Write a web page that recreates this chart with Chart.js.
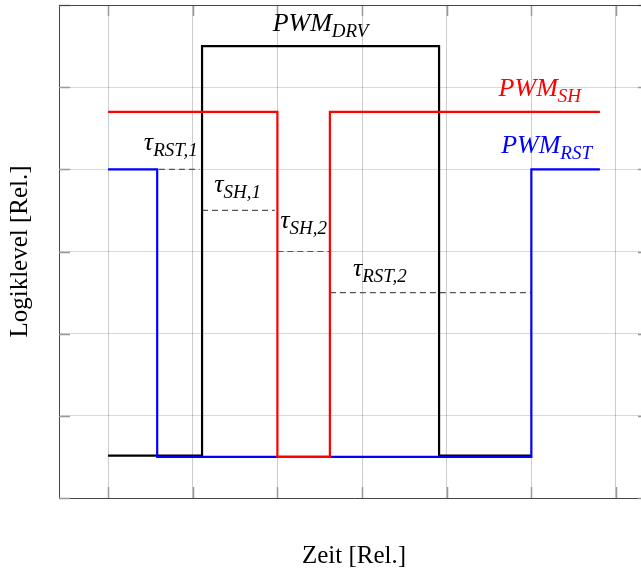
<!DOCTYPE html>
<html>
<head>
<meta charset="utf-8">
<script src="https://cdn.jsdelivr.net/npm/chart.js@4"></script>
<style>
html, body { margin: 0; padding: 0; background: #fff; overflow: hidden; }
#wrap { width: 660px; height: 571px; }
canvas { display: block; }
</style>
</head>
<body>
<div id="wrap"><canvas id="pwmChart" width="660" height="571"></canvas></div>
<script>
// signal edges (x = time, y = logic level), drawn as step lines
const drvX = [1, 2.11, 4.91, 6];
const drvY = [0.015, 5, 0.015, 0.015];
const shX = [1, 3.0, 3.62, 6.81];
const shY = [4.2, 0, 4.2, 4.2];
const rstX = [1, 1.58, 6, 6.81];
const rstY = [3.5, 0, 3.5, 3.5];

// dashed delay markers
const tauLevel = [3.5, 3, 2.5, 2];
const tauStart = [1.6, 2.11, 3.0, 3.62];
const tauEnd = [2.08, 2.97, 3.62, 6];

// labels: main text + subscript
const labelMain = ['PWM', 'PWM', 'PWM', 'τ', 'τ', 'τ', 'τ'];
const labelSub = ['DRV', 'SH', 'RST', 'RST,1', 'SH,1', 'SH,2', 'RST,2'];
const labelX = [3.51, 6.10, 6.18, 1.74, 2.53, 3.31, 4.21];
const labelY = [5.18, 4.39, 3.70, 3.73, 3.23, 2.78, 2.20];
const labelColor = ['#000', '#ff0000', '#0000ff', '#000', '#000', '#000', '#000'];

const serif = '"Liberation Serif", "Times New Roman", serif';

function toPoints(xs, ys) {
    return xs.map((v, i) => ({ x: v, y: ys[i] }));
}

// first index is drawn on top
const datasets = [
    { label: 'PWM_SH', data: toPoints(shX, shY), borderColor: '#ff0000', borderWidth: 2.2, stepped: 'before', pointRadius: 0, fill: false },
    { label: 'PWM_RST', data: toPoints(rstX, rstY), borderColor: '#0000ff', borderWidth: 2.2, stepped: 'before', pointRadius: 0, fill: false },
    { label: 'PWM_DRV', data: toPoints(drvX, drvY), borderColor: '#000000', borderWidth: 2.2, stepped: 'before', pointRadius: 0, fill: false }
];

tauLevel.forEach((lvl, i) => {
    datasets.push({
        label: 'tau' + i,
        data: [{ x: tauStart[i], y: lvl }, { x: tauEnd[i], y: lvl }],
        borderColor: '#555',
        borderWidth: 1.2,
        borderDash: [6, 4],
        pointRadius: 0,
        fill: false
    });
});

// top/right frame and inner tick marks like pgfplots
const framePlugin = {
    id: 'frame',
    beforeDatasetsDraw(chart) {
        const { ctx, chartArea: a, scales: { x, y } } = chart;
        ctx.save();
        ctx.strokeStyle = '#999';
        ctx.lineWidth = 1.5;
        ctx.beginPath();
        x.ticks.forEach(t => {
            const px = Math.round(x.getPixelForValue(t.value)) + 0.5;
            ctx.moveTo(px, a.top); ctx.lineTo(px, a.top + 11);
            ctx.moveTo(px, a.bottom); ctx.lineTo(px, a.bottom - 11);
        });
        y.ticks.forEach(t => {
            const py = Math.round(y.getPixelForValue(t.value)) + 0.5;
            ctx.moveTo(a.left, py); ctx.lineTo(a.left + 11, py);
            ctx.moveTo(a.right, py); ctx.lineTo(a.right - 11, py);
        });
        ctx.stroke();
        ctx.strokeStyle = '#444';
        ctx.lineWidth = 1;
        ctx.beginPath();
        ctx.moveTo(a.left, a.top + 0.5); ctx.lineTo(a.right, a.top + 0.5);
        ctx.moveTo(a.right - 0.5, a.top); ctx.lineTo(a.right - 0.5, a.bottom);
        ctx.stroke();
        ctx.restore();
    }
};

const labelPlugin = {
    id: 'pwmLabels',
    afterDatasetsDraw(chart) {
        const { ctx, scales: { x, y } } = chart;
        const mainFont = 'italic 26px ' + serif;
        const subFont = 'italic 19px ' + serif;
        ctx.save();
        ctx.textAlign = 'left';
        ctx.textBaseline = 'alphabetic';
        labelMain.forEach((txt, i) => {
            ctx.font = mainFont;
            const mw = ctx.measureText(txt).width;
            ctx.font = subFont;
            const sw = ctx.measureText(labelSub[i]).width;
            const px = x.getPixelForValue(labelX[i]) - (mw + sw) / 2;
            const py = y.getPixelForValue(labelY[i]);
            ctx.fillStyle = labelColor[i];
            ctx.font = mainFont;
            ctx.fillText(txt, px, py);
            ctx.font = subFont;
            ctx.fillText(labelSub[i], px + mw, py + 6);
        });
        ctx.restore();
    }
};

const ctx = document.getElementById('pwmChart').getContext('2d');
const pwmChart = new Chart(ctx, {
    type: 'line',
    data: { datasets: datasets },
    options: {
        responsive: false,
        animation: false,
        layout: { padding: { left: 5, top: 5, right: 11, bottom: 0 } },
        plugins: {
            legend: { display: false },
            tooltip: { enabled: false }
        },
        scales: {
            x: {
                type: 'linear',
                min: 0.42,
                max: 7.39,
                ticks: { display: false, stepSize: 1, includeBounds: false },
                grid: { color: 'rgba(0,0,0,0.2)', drawTicks: false },
                border: { color: '#444', width: 1 },
                title: {
                    display: true,
                    text: 'Zeit [Rel.]',
                    color: '#000',
                    font: { family: serif, size: 25 },
                    padding: { top: 43, bottom: 0 }
                }
            },
            y: {
                type: 'linear',
                min: -0.5,
                max: 5.5,
                ticks: { display: false, stepSize: 1, includeBounds: false },
                grid: { color: 'rgba(0,0,0,0.15)', drawTicks: false },
                border: { color: '#444', width: 1 },
                title: {
                    display: true,
                    text: 'Logiklevel [Rel.]',
                    color: '#000',
                    font: { family: serif, size: 25 },
                    padding: { top: 0, bottom: 24 }
                }
            }
        }
    },
    plugins: [framePlugin, labelPlugin]
});
</script>
</body>
</html>
